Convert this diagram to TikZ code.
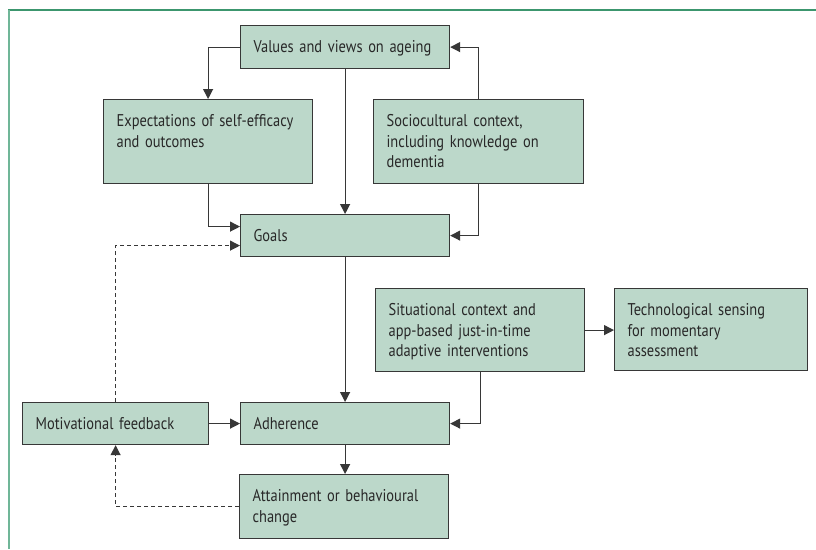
\documentclass[tikz,border=0pt]{standalone}
\usepackage{fontspec}
\setmainfont[FakeStretch=0.85]{PT Sans}
\usepackage{xcolor}
\usetikzlibrary{arrows.meta, positioning}
\definecolor{boxfill}{RGB}{188,216,202}
\definecolor{boxline}{RGB}{55,55,55}
\definecolor{boxtext}{RGB}{40,40,40}
\definecolor{frametop}{RGB}{60,150,110}
\definecolor{frameleft}{RGB}{112,182,152}

\begin{document}
\begin{tikzpicture}[x=1pt, y=-1pt, >={Triangle[length=10pt, width=10pt]},
    box/.style={draw=boxline, fill=boxfill, line width=1.2pt, anchor=north west,
      align=left, inner xsep=13pt, inner ysep=0pt, text height=27pt, text=boxtext,
      font=\fontsize{17}{20.5}\selectfont},
    link/.style={draw=boxline, line width=1.2pt, ->},
    fback/.style={link, dash pattern=on 4pt off 3pt}]
    \useasboundingbox (0,0) rectangle (816,549);

    % 1. Khung trang
    \draw[frametop, line width=1.5pt] (8,10) -- (816,10);
    \draw[frameleft, line width=2pt] (9,10) -- (9,549);

    % 2. Các hộp
    \node[box, text width=183pt, text depth=16pt] (values) at (240,25) {Values and views on ageing};
    \node[box, text width=183pt, text depth=57pt] (expect) at (103,99) {Expectations of self-efficacy\\and outcomes};
    \node[box, text width=184pt, text depth=57pt] (socio) at (373,99) {Sociocultural context,\\including knowledge on\\dementia};
    \node[box, text width=183pt, text depth=15pt] (goals) at (240,214) {Goals};
    \node[box, text width=183pt, text depth=56pt] (situ) at (375,288) {Situational context and\\app-based just-in-time\\adaptive interventions};
    \node[box, text width=167pt, text depth=55pt] (tech) at (614,288) {Technological sensing\\for momentary\\assessment};
    \node[box, text width=160pt, text depth=15pt] (motiv) at (22,402) {Motivational feedback};
    \node[box, text width=183pt, text depth=15pt] (adher) at (240,402) {Adherence};
    \node[box, text width=183pt, text depth=37pt] (attain) at (239,474) {Attainment or behavioural\\change};

    % 3. Mũi tên liền
    \draw[link] (values.west) -| (expect.north);
    \draw[link] (values.south) -- (goals.north);
    \draw[link] (socio.north) |- (values.east);
    \draw[link] (expect.south) |- ([yshift=9pt]goals.west);
    \draw[link] (socio.south) |- (goals.east);
    \draw[link] (goals.south) -- (adher.north);
    \draw[link] (situ.south) |- (adher.east);
    \draw[link] (situ.east) -- (situ.east -| tech.west);
    \draw[link] (motiv.east) -- (adher.west);
    \draw[link] (adher.south) -- (adher.south |- attain.north);

    % 4. Mũi tên nét đứt (phản hồi)
    \draw[fback] (attain.west) -| (motiv.south);
    \draw[fback] (motiv.north) |- ([yshift=-10pt]goals.west);
\end{tikzpicture}
\end{document}
